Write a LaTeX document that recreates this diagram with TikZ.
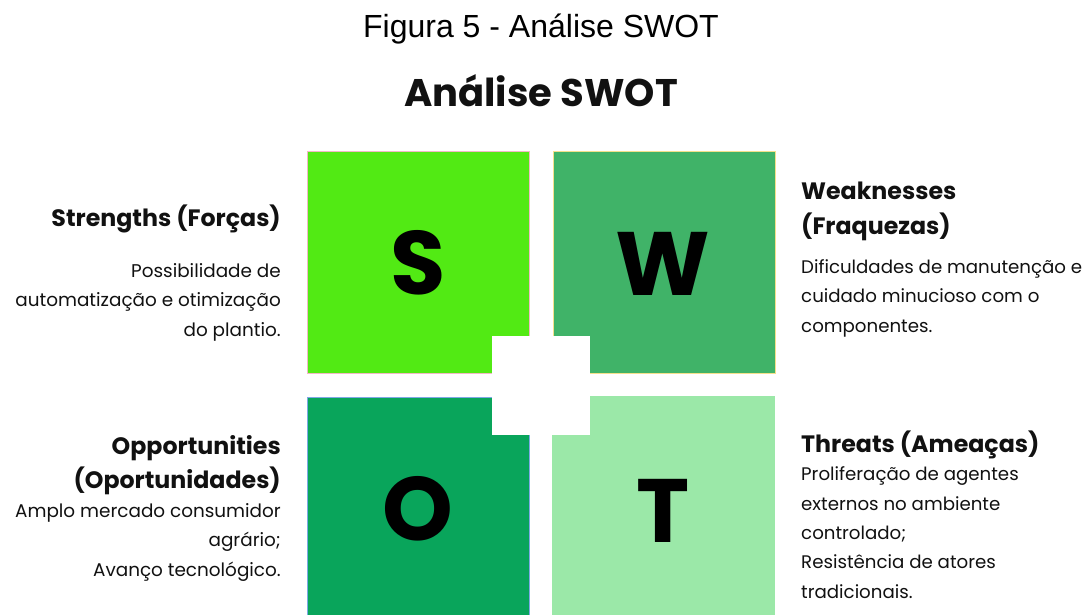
\documentclass[tikz,border=0pt]{standalone}
\usepackage{fontspec}
\setmainfont{Poppins}
\newfontfamily\capfont{Liberation Sans}
\definecolor{sgreen}{HTML}{52EA14}
\definecolor{wgreen}{HTML}{40B368}
\definecolor{ogreen}{HTML}{09A55B}
\definecolor{tgreen}{HTML}{9BE8A8}
\definecolor{spink}{HTML}{F2B8C6}
\definecolor{wyellow}{HTML}{F5E08C}
\definecolor{oblue}{HTML}{7FA8E6}
\definecolor{txt}{HTML}{111111}
\begin{document}
\begin{tikzpicture}[x=1pt,y=-1pt,
  letter/.style={anchor=base,inner sep=0pt,font=\fontsize{90}{90}\selectfont\bfseries,text=black},
  headL/.style={anchor=base east,inner sep=0pt,align=right,font=\fontsize{23.7}{34}\selectfont\bfseries,text=txt},
  headR/.style={anchor=base west,inner sep=0pt,align=left,font=\fontsize{23.7}{35}\selectfont\bfseries,text=txt},
  bodyL/.style={anchor=base east,inner sep=0pt,align=right,font=\fontsize{18.4}{29.5}\selectfont,text=txt},
  bodyR/.style={anchor=base west,inner sep=0pt,align=left,font=\fontsize{18.2}{29.3}\selectfont,text=txt}]
\useasboundingbox (0,0) rectangle (1084,615);
\fill[white] (0,0) rectangle (1084,615);
% caption and title
\node[anchor=base,inner sep=0pt,font=\capfont\fontsize{32}{32}\selectfont] (cap) at (541,38) {Figura 5 - Análise SWOT};
\node[anchor=base,inner sep=0pt,font=\fontsize{38.5}{40}\selectfont\bfseries,text=txt] (title) at (541,107) {Análise SWOT};
% squares
\filldraw[fill=sgreen,draw=spink,line width=1pt] (307,152) rectangle (529,373);
\filldraw[fill=wgreen,draw=wyellow,line width=1pt] (553,152) rectangle (775,373);
\filldraw[fill=ogreen,draw=oblue,line width=1pt] (307,616) -- (307,397) -- (529,397) -- (529,616);
\fill[tgreen] (552,396) rectangle (775,616);
% centre cut-out
\fill[white] (492,336) rectangle (590,435);
% letters
\node[letter] (S) at (418,294) {S};
\node[letter] (W) at (663,295) {W};
\node[letter] (O) at (418,540) {O};
\node[letter] (T) at (663,542) {T};
% strengths
\node[headL] (sh) at (281,226) {Strengths (Forças)};
\node[bodyL] (sb) at (281,336) {Possibilidade de\\automatização e otimização\\do plantio.};
% weaknesses
\node[headR] (wh) at (801,234) {Weaknesses\\(Fraquezas)};
\node[bodyR] (wb) at (801,332) {Dificuldades de manutenção e\\cuidado minucioso com o\\componentes.};
% opportunities
\node[headL] (oh) at (281,488) {Opportunities\\(Oportunidades)};
\node[bodyL] (ob) at (281,576) {Amplo mercado consumidor\\agrário;\\Avanço tecnológico.};
% threats
\node[headR] (th) at (801,452) {Threats (Ameaças)};
\node[bodyR] (tb) at (801,598) {Proliferação de agentes\\externos no ambiente\\controlado;\\Resistência de atores\\tradicionais.};
\end{tikzpicture}
\end{document}
